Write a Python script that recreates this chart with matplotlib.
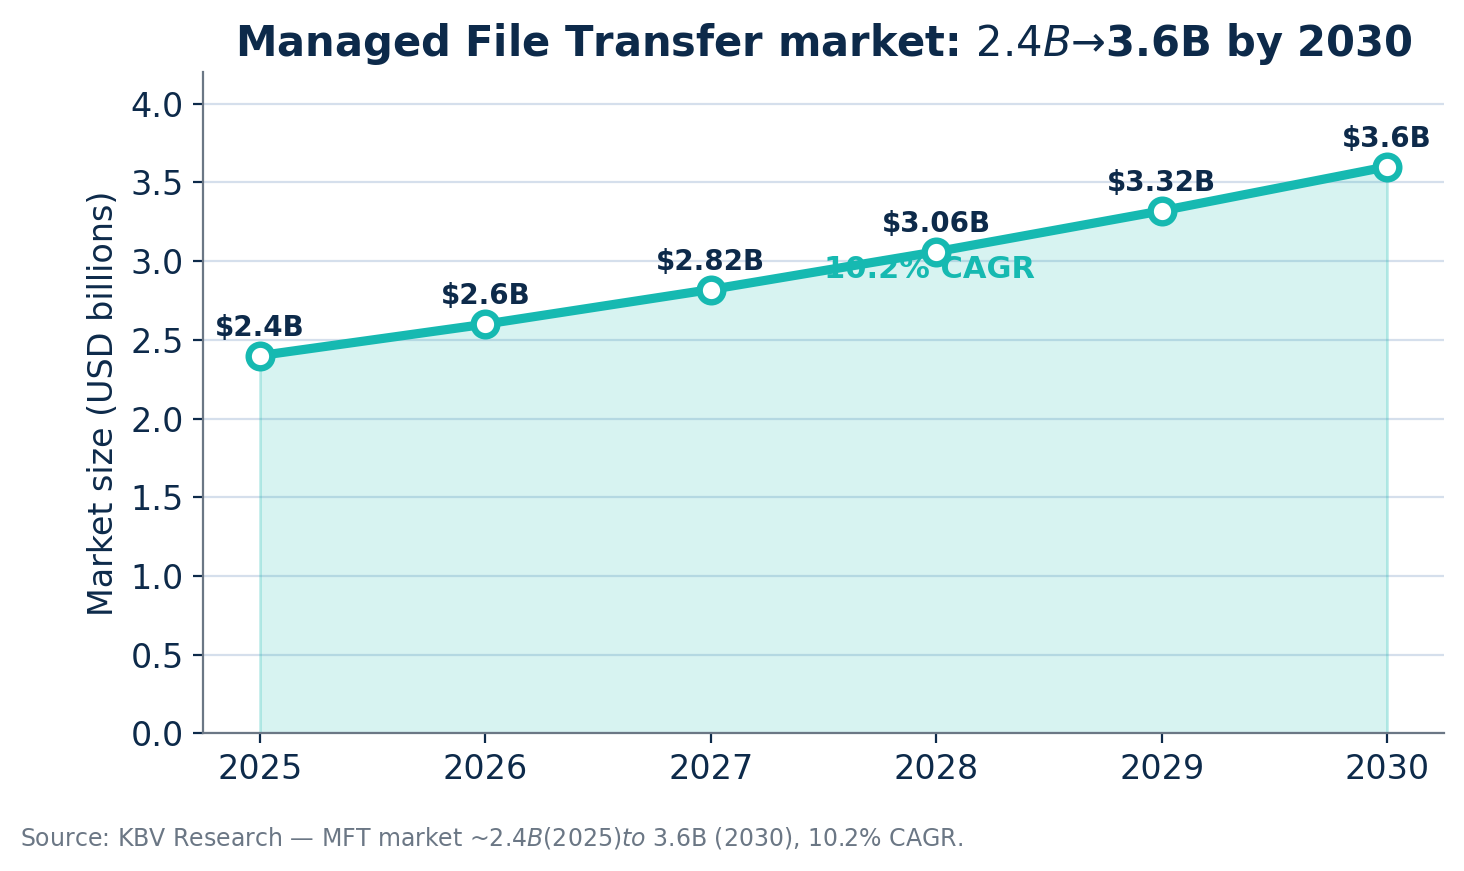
import matplotlib.pyplot as plt

years = [2025, 2026, 2027, 2028, 2029, 2030]
market = [2.4, 2.6, 2.82, 3.06, 3.32, 3.6]
labels = ["$2.4B", "$2.6B", "$2.82B", "$3.06B", "$3.32B", "$3.6B"]

navy = "#0d2a4a"
teal = "#16b9b1"

fig, ax = plt.subplots(figsize=(7.32, 4.355), dpi=200)
fig.subplots_adjust(left=0.139, right=0.986, top=0.917, bottom=0.158)

ax.fill_between(years, market, color=teal, alpha=0.17, linewidth=0, zorder=1)
ax.vlines([years[0], years[-1]], 0, [market[0], market[-1]], color=teal, alpha=0.25, lw=1, zorder=1)
ax.text(2027.5, 2.95, "10.2% CAGR", color=teal, fontsize=11, fontweight="bold",
        ha="left", va="center", zorder=2)
ax.plot(years, market, color=teal, lw=3.3, marker="o", markersize=8.5,
        markerfacecolor="white", markeredgecolor=teal, markeredgewidth=2.3, zorder=3)

for x, y, lab in zip(years, market, labels):
    ax.annotate(lab.replace("$", r"\$"), (x, y), xytext=(0, 5), textcoords="offset points",
                ha="center", va="bottom", fontsize=10, fontweight="bold", color=navy)

ax.set_xlim(2024.75, 2030.25)
ax.set_ylim(0, 4.2)
ax.set_xticks(years)
ax.set_yticks([0, 0.5, 1.0, 1.5, 2.0, 2.5, 3.0, 3.5, 4.0])
ax.tick_params(labelsize=12, colors=navy)
ax.set_ylabel("Market size (USD billions)", fontsize=12, color=navy)
ax.grid(axis="y", color="#d5dfec", lw=0.8)
ax.set_axisbelow(True)
for s in ["top", "right"]:
    ax.spines[s].set_visible(False)
for s in ["left", "bottom"]:
    ax.spines[s].set_color("#6b7785")

ax.set_title("Managed File Transfer market: $2.4B→$3.6B by 2030",
             fontsize=15, fontweight="bold", color=navy, pad=6)
fig.text(0.014, 0.038, "Source: KBV Research — MFT market ~$2.4B (2025) to$ 3.6B (2030), 10.2% CAGR.",
         fontsize=8.5, color="#6b7785", ha="left", va="center")

fig.savefig("out.png", dpi=200)
